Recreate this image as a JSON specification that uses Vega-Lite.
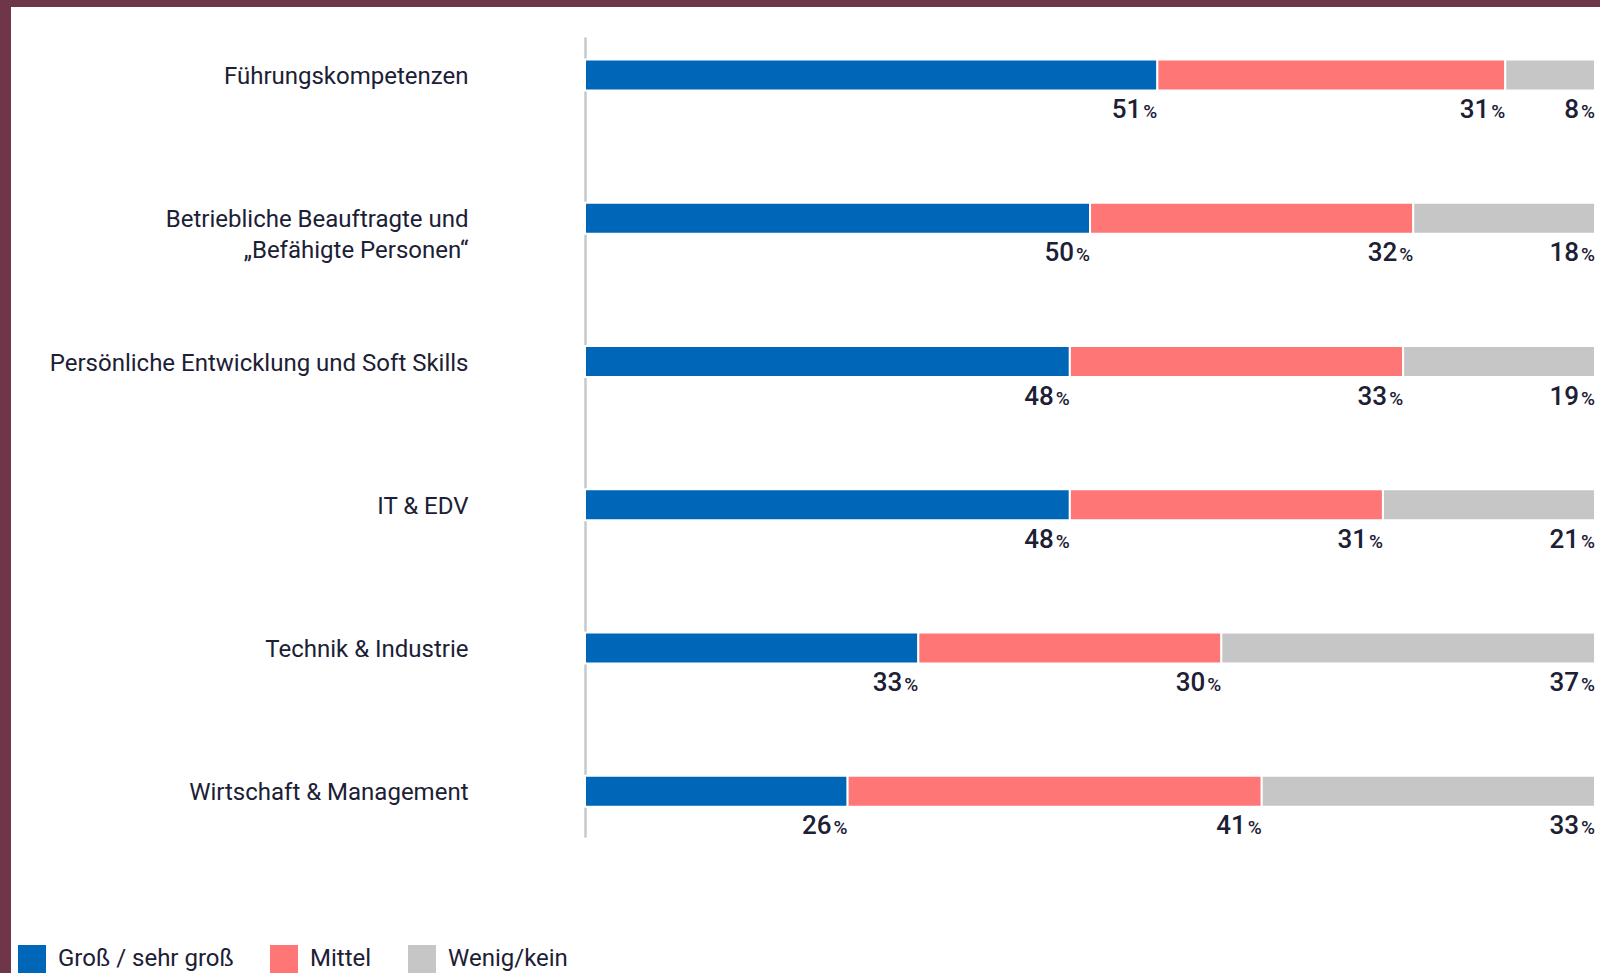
{
  "$schema": "https://vega.github.io/schema/vega-lite/v6.json",
  "width": 1600,
  "height": 973,
  "autosize": {"type": "fit", "contains": "padding"},
  "padding": {"left": 11, "top": 7, "right": 0, "bottom": 0},
  "background": "#6f3549",
  "config": {
    "view": {"fill": "white", "stroke": null},
    "font": "Roboto"
  },
  "data": {
    "values": [
      {"cat": "Führungskompetenzen", "group": "Groß / sehr groß", "order": 1, "value": 51},
      {"cat": "Führungskompetenzen", "group": "Mittel", "order": 2, "value": 31},
      {"cat": "Führungskompetenzen", "group": "Wenig/kein", "order": 3, "value": 8},
      {"cat": "Betriebliche Beauftragte und|„Befähigte Personen“", "group": "Groß / sehr groß", "order": 1, "value": 50},
      {"cat": "Betriebliche Beauftragte und|„Befähigte Personen“", "group": "Mittel", "order": 2, "value": 32},
      {"cat": "Betriebliche Beauftragte und|„Befähigte Personen“", "group": "Wenig/kein", "order": 3, "value": 18},
      {"cat": "Persönliche Entwicklung und Soft Skills", "group": "Groß / sehr groß", "order": 1, "value": 48},
      {"cat": "Persönliche Entwicklung und Soft Skills", "group": "Mittel", "order": 2, "value": 33},
      {"cat": "Persönliche Entwicklung und Soft Skills", "group": "Wenig/kein", "order": 3, "value": 19},
      {"cat": "IT & EDV", "group": "Groß / sehr groß", "order": 1, "value": 48},
      {"cat": "IT & EDV", "group": "Mittel", "order": 2, "value": 31},
      {"cat": "IT & EDV", "group": "Wenig/kein", "order": 3, "value": 21},
      {"cat": "Technik & Industrie", "group": "Groß / sehr groß", "order": 1, "value": 33},
      {"cat": "Technik & Industrie", "group": "Mittel", "order": 2, "value": 30},
      {"cat": "Technik & Industrie", "group": "Wenig/kein", "order": 3, "value": 37},
      {"cat": "Wirtschaft & Management", "group": "Groß / sehr groß", "order": 1, "value": 26},
      {"cat": "Wirtschaft & Management", "group": "Mittel", "order": 2, "value": 41},
      {"cat": "Wirtschaft & Management", "group": "Wenig/kein", "order": 3, "value": 33}
    ]
  },
  "transform": [
    {"stack": "value", "groupby": ["cat"], "sort": [{"field": "order", "order": "ascending"}], "offset": "normalize", "as": ["x0", "x1"]}
  ],
  "encoding": {
    "y": {
      "field": "cat",
      "type": "nominal",
      "sort": null,
      "scale": {"range": [30, 830], "paddingInner": 0.7835, "paddingOuter": 0.184, "align": 0.427},
      "axis": {
        "title": null,
        "orient": "left",
        "offset": -574,
        "ticks": false,
        "grid": false,
        "domain": true,
        "domainColor": "#c8c8c8",
        "domainWidth": 2.5,
        "labelExpr": "split(datum.label, '|')",
        "labelFont": "Roboto",
        "labelFontSize": 24,
        "labelColor": "#1c2035",
        "labelLimit": 0,
        "labelPadding": 117,
        "labelAlign": "right",
        "labelBaseline": "alphabetic",
        "labelOffset": 9,
        "labelLineHeight": 30.6
      }
    }
  },
  "layer": [
    {
      "mark": {"type": "bar", "stroke": "white", "strokeWidth": 2},
      "encoding": {
        "x": {"field": "x0", "type": "quantitative", "scale": {"domain": [-0.5683, 1.0049], "nice": false, "zero": false}, "axis": null},
        "x2": {"field": "x1"},
        "color": {
          "field": "group",
          "type": "nominal",
          "sort": null,
          "scale": {"domain": ["Groß / sehr groß", "Mittel", "Wenig/kein"], "range": ["#0066b8", "#ff7676", "#c6c6c6"]},
          "legend": {
            "title": null,
            "orient": "none",
            "legendX": 7,
            "legendY": 938,
            "direction": "horizontal",
            "symbolType": "square",
            "symbolSize": 784,
            "symbolStrokeWidth": 0,
            "labelFont": "Roboto",
            "labelFontSize": 24,
            "labelColor": "#1c2035",
            "labelOffset": 12,
            "columnPadding": 36,
            "labelLimit": 0
          }
        }
      }
    },
    {
      "mark": {"type": "text", "align": "right", "baseline": "alphabetic", "dx": -16, "dy": 43, "fontSize": 26, "fontWeight": 500, "color": "#1c2035"},
      "encoding": {
        "x": {"field": "x1", "type": "quantitative"},
        "text": {"field": "value", "type": "nominal"}
      }
    },
    {
      "mark": {"type": "text", "align": "right", "baseline": "alphabetic", "dx": 0, "dy": 43, "fontSize": 19, "fontWeight": 500, "color": "#1c2035", "text": "%"},
      "encoding": {
        "x": {"field": "x1", "type": "quantitative"}
      }
    }
  ]
}
